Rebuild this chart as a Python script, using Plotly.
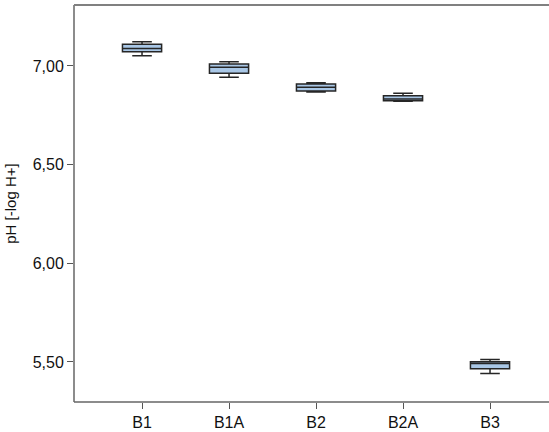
import plotly.graph_objects as go

categories = ["B1", "B1A", "B2", "B2A", "B3"]
lower_whisker = [7.052, 6.943, 6.868, 6.821, 5.441]
q1_values = [7.072, 6.963, 6.873, 6.824, 5.465]
median_values = [7.088, 6.993, 6.892, 6.833, 5.492]
q3_values = [7.110, 7.010, 6.909, 6.849, 5.501]
upper_whisker = [7.123, 7.022, 6.915, 6.862, 5.513]
y_tick_values = [5.5, 6.0, 6.5, 7.0]

positions = list(range(len(categories)))

fig = go.Figure()
fig.add_trace(go.Box(
    x=positions,
    q1=q1_values,
    median=median_values,
    q3=q3_values,
    lowerfence=lower_whisker,
    upperfence=upper_whisker,
    width=0.45,
    whiskerwidth=0.5,
    fillcolor="#a9c7e6",
    line=dict(color="#262626", width=1.5),
    boxpoints=False,
    hoverinfo="skip",
    showlegend=False,
))

# mask the right plot edge (no right frame in the reference)
fig.add_shape(type="line", xref="paper", yref="paper", x0=1, x1=1, y0=-0.02, y1=0.995,
              line=dict(color="white", width=4), layer="above")
# frame lines: left, bottom, top
frame = dict(color="#666666", width=1.5)
fig.add_shape(type="line", xref="paper", yref="paper", x0=0, x1=0, y0=0, y1=1, line=frame, layer="above")
fig.add_shape(type="line", xref="paper", yref="paper", x0=0, x1=1.05, y0=0, y1=0, line=frame, layer="above")
fig.add_shape(type="line", xref="paper", yref="paper", x0=0, x1=1.05, y0=1, y1=1,
              line=dict(color="#808080", width=2), layer="above")

fig.update_layout(
    width=549,
    height=432,
    margin=dict(l=74, r=0, t=5, b=30),
    paper_bgcolor="white",
    plot_bgcolor="white",
    separators=",.",
    font=dict(family="Liberation Sans, Arial, sans-serif", size=16, color="#111111"),
    xaxis=dict(
        tickmode="array",
        tickvals=positions,
        ticktext=categories,
        range=[-0.782, 4.678],
        showgrid=False,
        zeroline=False,
        showline=False,
        ticks="outside",
        ticklen=6,
        tickcolor="#555555",
        tickfont=dict(size=16),
    ),
    yaxis=dict(
        tickmode="array",
        tickvals=y_tick_values,
        tickformat=".2f",
        range=[5.297, 7.309],
        showgrid=False,
        zeroline=False,
        showline=False,
        ticks="outside",
        ticklen=6,
        tickcolor="#555555",
        tickfont=dict(size=16),
        title=dict(text="pH [-log H+]", font=dict(size=15), standoff=12),
    ),
)

fig.write_html("out.html")
